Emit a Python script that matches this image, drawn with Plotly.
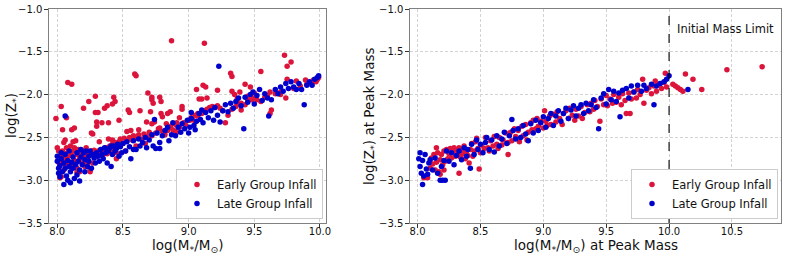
import plotly.graph_objects as go

# ---------------- data ----------------
LEFT_EARLY = [
    (8.00,-2.62),(8.01,-2.66),(8.01,-2.79),(8.02,-2.82),(8.02,-2.97),(8.03,-2.96),(8.03,-2.70),(8.04,-2.80),
    (8.04,-2.66),(8.05,-2.88),(8.05,-2.74),(8.06,-2.81),(8.06,-2.69),(8.07,-2.77),(8.07,-2.62),(8.08,-2.83),
    (8.08,-2.72),(8.09,-2.66),(8.10,-2.79),(8.10,-2.60),(8.11,-2.71),(8.11,-2.84),(8.12,-2.66),(8.13,-2.77),
    (8.13,-2.62),(8.14,-2.81),(8.15,-2.70),(8.15,-2.86),(8.16,-2.64),(8.17,-2.75),(8.17,-2.90),(8.18,-2.68),
    (8.19,-2.80),(8.20,-2.66),(8.20,-2.73),(8.21,-2.84),(8.22,-2.70),(8.22,-2.62),(8.23,-2.76),(8.24,-2.67),
    (8.25,-2.71),(8.25,-2.88),(8.26,-2.66),(8.27,-2.80),(8.27,-2.69),(8.28,-2.65),(8.29,-2.73),(8.30,-2.68),
    (8.31,-2.66),(8.32,-2.71),(8.33,-2.67),(8.34,-2.64),(8.35,-2.70),(8.36,-2.66),(8.37,-2.62),(8.38,-2.69),
    (8.39,-2.64),(8.40,-2.60),(8.41,-2.66),(8.42,-2.58),(8.43,-2.62),(8.44,-2.56),(8.45,-2.68),(8.46,-2.59),
    (8.47,-2.55),(8.48,-2.52),(8.50,-2.57),(8.51,-2.51),(8.53,-2.54),(8.55,-2.50),(8.57,-2.53),(8.58,-2.48),
    (8.60,-2.51),(8.62,-2.47),(8.64,-2.52),(8.66,-2.46),(8.68,-2.49),(8.70,-2.44),(8.72,-2.48),(8.75,-2.45),
    (8.77,-2.40),(8.80,-2.43),(8.82,-2.47),(8.84,-2.42),(8.86,-2.38),(8.88,-2.41),(8.90,-2.35),(8.93,-2.38),
    (8.96,-2.33),(8.98,-2.36),(9.00,-2.30),(9.02,-2.27),(9.05,-2.32),(9.07,-2.25),(9.10,-2.22),(9.12,-2.19),
    (9.14,-2.17),(9.16,-2.15),(9.18,-2.14),(9.20,-2.15),(9.22,-2.13),(9.24,-2.16),(9.26,-2.19),(9.30,-2.24),
    (9.33,-2.17),(9.36,-2.14),(9.38,-2.11),(9.40,-2.10),(9.43,-2.12),(9.45,-2.07),(9.48,-2.06),(9.50,-2.04),
    (9.52,-2.06),(9.55,-2.08),(9.58,-2.03),(9.60,-2.01),(9.66,-1.99),(9.70,-1.97),(9.80,-1.93),(9.85,-1.90),
    (9.90,-1.88),(9.93,-1.86),(9.96,-1.84),(9.98,-1.82),
    (8.87,-1.37),(9.12,-1.40),(9.73,-1.54),(9.78,-1.62),(9.75,-1.67),(9.55,-1.73),(8.59,-1.76),(8.60,-1.78),
    (8.08,-1.86),(8.11,-1.88),(9.11,-1.89),(9.13,-1.91),(9.43,-1.88),(9.47,-1.91),(9.75,-1.82),(9.82,-1.84),
    (9.89,-1.83),(9.95,-1.83),(9.99,-1.80),(9.97,-1.85),(8.69,-1.98),(8.72,-2.03),(8.72,-2.06),(8.73,-2.10),
    (8.43,-2.03),(8.44,-2.08),(8.29,-2.02),(8.24,-2.08),(8.03,-2.14),(9.06,-1.94),(9.08,-2.05),(9.10,-2.05),
    (9.14,-2.04),(9.35,-2.00),(9.37,-2.05),(9.45,-2.02),(9.50,-1.98),(9.62,-1.97),(9.70,-2.00),(9.74,-2.04),
    (9.63,-2.18),(9.62,-2.22),(7.99,-2.28),(8.07,-2.27),(8.29,-2.21),(8.31,-2.21),(8.20,-2.16),(8.38,-2.13),
    (8.36,-2.16),(8.42,-2.11),(8.54,-2.18),(8.55,-2.21),(8.63,-2.19),(8.30,-2.32),(8.34,-2.33),(8.39,-2.33),
    (8.30,-2.37),(8.47,-2.30),(8.04,-2.41),(8.11,-2.41),(8.13,-2.39),(8.26,-2.45),(8.27,-2.46),(8.06,-2.53),
    (8.05,-2.56),(8.12,-2.55),(8.14,-2.54),(8.32,-2.55),(8.39,-2.52),(8.42,-2.53),(8.53,-2.43),(8.56,-2.42),
    (8.62,-2.41),(8.78,-2.03),(8.79,-2.08),(8.71,-2.20),(8.79,-2.22),(8.80,-2.26),(8.84,-2.22),(8.86,-2.20),
    (8.95,-2.14),(8.95,-2.17),(8.74,-2.32),(8.72,-2.34),(8.68,-2.32),(8.83,-2.34),(8.86,-2.37),(8.78,-2.39),
    (8.91,-2.33),(8.93,-2.27),(9.01,-2.30),(9.03,-2.29),(9.05,-2.24),(9.07,-2.22),(9.32,-1.75),(9.33,-1.79),
    (9.22,-1.95),(9.33,-1.96),(9.39,-1.97),(9.40,-2.18),(9.28,-2.33),(8.90,-2.43),(8.91,-2.44),(8.25,-2.90),
    (8.15,-2.91),(8.23,-2.80),(8.45,-2.75),(8.52,-2.66),(8.60,-2.60),(8.67,-2.57),
]

LEFT_LATE = [
    (8.00,-2.78),(8.00,-2.72),(8.01,-2.86),(8.01,-2.92),(8.02,-2.83),(8.02,-2.96),(8.03,-2.68),(8.03,-2.75),
    (8.04,-2.90),(8.05,-3.05),(8.05,-2.80),(8.06,-2.86),(8.06,-2.70),(8.07,-2.95),(8.08,-3.00),(8.08,-2.77),
    (8.09,-2.84),(8.09,-2.66),(8.10,-3.03),(8.10,-2.90),(8.11,-2.79),(8.12,-2.73),(8.12,-2.86),(8.13,-2.98),
    (8.14,-2.82),(8.15,-2.68),(8.15,-2.94),(8.16,-2.78),(8.17,-3.01),(8.17,-2.88),(8.18,-2.64),(8.18,-2.73),
    (8.19,-2.82),(8.20,-2.68),(8.21,-2.76),(8.21,-2.90),(8.22,-2.66),(8.23,-2.84),(8.24,-2.72),(8.24,-2.78),
    (8.25,-2.66),(8.26,-2.86),(8.27,-2.70),(8.28,-2.74),(8.29,-2.80),(8.30,-2.68),(8.31,-2.72),(8.32,-2.78),
    (8.33,-2.64),(8.34,-2.70),(8.35,-2.75),(8.36,-2.62),(8.37,-2.68),(8.38,-2.80),(8.39,-2.66),(8.40,-2.62),
    (8.41,-2.84),(8.42,-2.70),(8.43,-2.60),(8.44,-2.66),(8.45,-2.63),(8.46,-2.58),(8.47,-2.72),(8.48,-2.61),
    (8.49,-2.68),(8.50,-2.57),(8.52,-2.66),(8.53,-2.55),(8.55,-2.61),(8.56,-2.75),(8.58,-2.54),(8.60,-2.64),
    (8.62,-2.52),(8.63,-2.60),(8.65,-2.56),(8.67,-2.50),(8.68,-2.62),(8.70,-2.53),(8.72,-2.47),(8.73,-2.60),
    (8.75,-2.63),(8.76,-2.45),(8.78,-2.56),(8.80,-2.48),(8.78,-2.63),(8.82,-2.42),(8.84,-2.38),(8.85,-2.54),
    (8.87,-2.47),(8.88,-2.33),(8.90,-2.48),(8.92,-2.38),(8.94,-2.44),(8.95,-2.34),(8.97,-2.40),(8.99,-2.30),
    (9.00,-2.45),(9.01,-2.38),(9.02,-2.28),(9.04,-2.36),(9.05,-2.41),(9.06,-2.31),(9.08,-2.22),(9.09,-2.29),
    (9.10,-2.18),(9.11,-2.33),(9.13,-2.21),(9.15,-2.27),(9.17,-2.19),(9.19,-2.30),(9.20,-2.15),(9.22,-2.24),
    (9.23,-1.67),(9.24,-2.32),(9.26,-2.19),(9.28,-2.12),(9.30,-2.20),(9.32,-2.10),(9.34,-2.16),(9.36,-2.08),
    (9.38,-2.04),(9.40,-2.13),(9.42,-2.40),(9.43,-2.03),(9.45,-2.09),(9.47,-2.00),(9.49,-1.97),(9.50,-2.11),
    (9.52,-2.01),(9.54,-1.94),(9.56,-2.07),(9.58,-1.99),(9.60,-2.04),(9.61,-2.25),(9.63,-2.06),(9.66,-1.94),
    (9.68,-1.99),(9.70,-1.91),(9.72,-1.96),(9.74,-1.87),(9.76,-1.93),(9.78,-1.85),(9.80,-1.91),(9.82,-1.94),
    (9.84,-1.87),(9.86,-1.94),(9.88,-2.12),(9.90,-1.89),(9.92,-1.85),(9.94,-1.89),(9.96,-1.82),(9.98,-1.80),
    (9.99,-1.78),(8.06,-2.25),(8.74,-2.29),(9.02,-2.21),(8.41,-2.60),(8.58,-2.64),
]

RIGHT_EARLY = [
    (8.05,-2.97),(8.08,-2.97),(8.10,-2.86),(8.11,-2.74),(8.12,-2.81),(8.13,-2.70),(8.14,-2.88),(8.15,-2.62),
    (8.15,-2.79),(8.16,-2.68),(8.17,-2.90),(8.18,-2.76),(8.18,-2.93),(8.19,-2.70),(8.20,-2.82),(8.21,-2.88),
    (8.21,-2.66),(8.22,-2.78),(8.23,-2.64),(8.24,-2.75),(8.25,-2.69),(8.26,-2.63),(8.27,-2.74),(8.28,-2.67),
    (8.29,-2.62),(8.30,-2.72),(8.31,-2.65),(8.32,-2.70),(8.33,-2.62),(8.33,-2.92),(8.34,-2.73),(8.35,-2.64),
    (8.36,-2.69),(8.37,-2.60),(8.38,-2.75),(8.39,-2.66),(8.40,-2.71),(8.41,-2.80),(8.42,-2.64),(8.43,-2.57),
    (8.44,-2.72),(8.45,-2.66),(8.46,-2.55),(8.47,-2.51),(8.48,-2.63),(8.49,-2.87),(8.50,-2.68),(8.51,-2.59),
    (8.53,-2.63),(8.54,-2.50),(8.56,-2.62),(8.57,-2.66),(8.58,-2.54),(8.60,-2.60),(8.61,-2.49),(8.63,-2.58),
    (8.64,-2.63),(8.65,-2.50),(8.67,-2.59),(8.68,-2.53),(8.70,-2.45),(8.72,-2.70),(8.72,-2.56),(8.74,-2.44),
    (8.75,-2.54),(8.77,-2.40),(8.78,-2.49),(8.80,-2.42),(8.81,-2.55),(8.83,-2.37),(8.84,-2.48),(8.86,-2.35),
    (8.87,-2.53),(8.88,-2.44),(8.90,-2.33),(8.91,-2.41),(8.92,-2.30),(8.94,-2.40),(8.95,-2.28),(8.96,-2.37),
    (8.98,-2.31),(9.00,-2.39),(9.01,-2.19),(9.02,-2.31),(9.03,-2.36),(9.05,-2.25),(9.06,-2.35),(9.08,-2.23),
    (9.10,-2.32),(9.11,-2.20),(9.13,-2.28),(9.15,-2.35),(9.16,-2.22),(9.18,-2.19),(9.20,-2.28),(9.21,-2.16),
    (9.23,-2.24),(9.25,-2.30),(9.26,-2.17),(9.28,-2.25),(9.30,-2.14),(9.31,-2.28),(9.33,-2.21),(9.35,-2.12),
    (9.37,-2.20),(9.38,-2.10),(9.40,-2.17),(9.41,-2.07),(9.43,-2.14),(9.45,-2.31),(9.46,-2.05),(9.48,-2.12),
    (9.50,-2.01),(9.51,-2.13),(9.53,-2.05),(9.55,-2.10),(9.56,-2.00),(9.58,-2.09),(9.60,-2.03),(9.62,-2.12),
    (9.63,-1.99),(9.65,-2.07),(9.66,-2.22),(9.68,-1.98),(9.69,-2.22),(9.70,-2.05),(9.72,-1.97),(9.74,-2.04),
    (9.75,-1.94),(9.77,-2.00),(9.79,-1.82),(9.80,-2.10),(9.82,-1.95),(9.84,-1.92),(9.86,-1.99),(9.88,-1.90),
    (9.89,-1.84),(9.90,-1.96),(9.92,-1.88),(9.94,-1.93),(9.96,-1.86),(9.97,-1.75),(9.98,-1.91),(10.03,-1.88),
    (10.05,-1.90),(10.07,-1.92),(10.09,-1.94),(10.11,-1.96),(10.13,-1.76),(10.19,-1.82),(10.26,-1.94),
    (10.46,-1.71),(10.74,-1.675),
]

RIGHT_LATE = [
    (8.01,-2.75),(8.02,-2.68),(8.02,-2.84),(8.03,-2.92),(8.04,-2.77),(8.04,-3.05),(8.05,-2.95),(8.06,-2.70),
    (8.07,-2.87),(8.08,-2.93),(8.09,-2.80),(8.10,-2.76),(8.12,-2.88),(8.14,-2.74),(8.16,-2.92),(8.18,-3.00),
    (8.19,-2.84),(8.20,-3.00),(8.21,-2.77),(8.22,-3.00),(8.23,-2.66),(8.25,-2.78),(8.27,-2.68),(8.29,-2.82),
    (8.31,-2.71),(8.33,-2.66),(8.35,-2.76),(8.37,-2.62),(8.39,-2.72),(8.40,-2.64),(8.42,-2.86),(8.43,-2.58),
    (8.45,-2.70),(8.47,-2.53),(8.48,-2.64),(8.50,-2.58),(8.52,-2.68),(8.54,-2.56),(8.55,-2.50),(8.57,-2.64),
    (8.59,-2.53),(8.61,-2.67),(8.63,-2.48),(8.65,-2.60),(8.67,-2.52),(8.69,-2.44),(8.71,-2.57),(8.73,-2.48),
    (8.75,-2.29),(8.76,-2.42),(8.78,-2.52),(8.80,-2.40),(8.82,-2.50),(8.84,-2.36),(8.86,-2.46),(8.88,-2.54),
    (8.90,-2.34),(8.92,-2.45),(8.94,-2.30),(8.96,-2.42),(8.98,-2.33),(9.00,-2.26),(9.02,-2.38),(9.04,-2.28),
    (9.06,-2.22),(9.08,-2.36),(9.10,-2.25),(9.12,-2.19),(9.14,-2.31),(9.16,-2.22),(9.18,-2.16),(9.20,-2.28),
    (9.22,-2.18),(9.24,-2.13),(9.26,-2.25),(9.28,-2.16),(9.30,-2.12),(9.32,-2.22),(9.34,-2.10),(9.36,-2.19),
    (9.38,-2.12),(9.40,-2.06),(9.42,-2.15),(9.44,-2.40),(9.46,-2.04),(9.48,-1.99),(9.50,-2.11),(9.52,-1.94),
    (9.54,-2.06),(9.56,-1.96),(9.58,-2.08),(9.60,-1.98),(9.61,-2.26),(9.63,-1.95),(9.66,-1.93),(9.68,-2.04),
    (9.70,-1.90),(9.72,-1.97),(9.75,-1.89),(9.78,-1.96),(9.80,-1.89),(9.82,-1.93),(9.86,-1.88),(9.88,-2.12),
    (9.90,-1.90),(9.93,-1.87),(9.96,-1.85),(9.98,-1.82),(10.00,-1.78),(10.15,-1.94),
]

X_TICKS_LEFT = [8.0, 8.5, 9.0, 9.5, 10.0]
X_TICKS_RIGHT = [8.0, 8.5, 9.0, 9.5, 10.0, 10.5]
Y_TICKS = [-3.5, -3.0, -2.5, -2.0, -1.5, -1.0]
MASS_LIMIT = 10.0

RED = "#DC143C"
BLUE = "#0000CD"
FONT = "DejaVu Sans"
W, H = 789, 259

fig = go.Figure()

def add(points, color, name, xa, ya, legend):
    fig.add_trace(go.Scatter(
        x=[p[0] for p in points], y=[p[1] for p in points], mode="markers",
        marker=dict(color=color, size=5.5, line=dict(width=0)),
        name=name, xaxis=xa, yaxis=ya, legend=legend, showlegend=True))

add(LEFT_EARLY, RED, "Early Group Infall", "x", "y", "legend")
add(LEFT_LATE, BLUE, "Late Group Infall", "x", "y", "legend")
add(RIGHT_EARLY, RED, "Early Group Infall", "x2", "y2", "legend2")
add(RIGHT_LATE, BLUE, "Late Group Infall", "x2", "y2", "legend2")

axis_common = dict(showline=True, mirror=True, linecolor="#808080", linewidth=1.2,
                   ticks="outside", ticklen=3.5, tickcolor="#333", showgrid=True,
                   gridcolor="#d3d3d3", griddash="3px,2px", gridwidth=0.8, zeroline=False,
                   automargin=False,
                   tickfont=dict(family=FONT, size=10, color="#111"), tickformat=".1f")
x_extra = dict(ticklabelstandoff=-5)

Y_DOM = [1 - 223 / H, 1 - 9 / H]
legend_common = dict(xanchor="right", yanchor="bottom", bgcolor="white",
                     bordercolor="#cccccc", borderwidth=1,
                     font=dict(family=FONT, size=11.5, color="#111"),
                     itemwidth=30, tracegroupgap=0)

fig.update_layout(
    width=W, height=H, margin=dict(l=0, r=0, t=0, b=0, autoexpand=False),
    paper_bgcolor="white", plot_bgcolor="white",
    font=dict(family=FONT, color="#111"),
    xaxis=dict(domain=[49 / W, 326 / W], range=[7.937, 10.046], tickvals=X_TICKS_LEFT,
               anchor="y", **axis_common, **x_extra),
    yaxis=dict(domain=Y_DOM, range=[-3.5, -1.0], tickvals=Y_TICKS, anchor="x", **axis_common),
    xaxis2=dict(domain=[410 / W, 781 / W], range=[7.94, 10.89], tickvals=X_TICKS_RIGHT,
                anchor="y2", **axis_common, **x_extra),
    yaxis2=dict(domain=Y_DOM, range=[-3.5, -1.0], tickvals=Y_TICKS, anchor="x2", **axis_common),
    legend=dict(x=323 / W, y=1 - 219 / H, **legend_common),
    legend2=dict(x=778 / W, y=1 - 219 / H, **legend_common),
)

TITLE_FONT = dict(family=FONT, size=13.5, color="#111")
titles = [
    ("log(M<sub>*</sub>/M<sub>⊙</sub>)", (49 + 326) / 2 / W, 1 - 246 / H, 0),
    ("log(M<sub>*</sub>/M<sub>⊙</sub>) at Peak Mass", (410 + 781) / 2 / W, 1 - 246 / H, 0),
    ("log(Z<sub>*</sub>)", 12 / W, 1 - 116 / H, -90),
    ("log(Z<sub>*</sub>) at Peak Mass", 370 / W, 1 - 116 / H, -90),
]
for text, x, y, ang in titles:
    fig.add_annotation(xref="paper", yref="paper", x=x, y=y, text=text, showarrow=False,
                       xanchor="center", yanchor="middle", textangle=ang, font=TITLE_FONT)

fig.add_shape(type="line", xref="x2", yref="y2 domain", x0=MASS_LIMIT, x1=MASS_LIMIT,
              y0=0, y1=1, line=dict(color="black", width=1.1, dash="dash"))
fig.add_annotation(xref="x2", yref="y2", x=MASS_LIMIT + 0.05, y=-1.23, text="Initial Mass Limit",
                   showarrow=False, xanchor="left", yanchor="middle",
                   font=dict(family=FONT, size=11.5, color="#111"))

fig.write_html("out.html", config={"displayModeBar": False},
               post_script="document.body.style.margin='0';document.body.style.overflow='hidden';")
